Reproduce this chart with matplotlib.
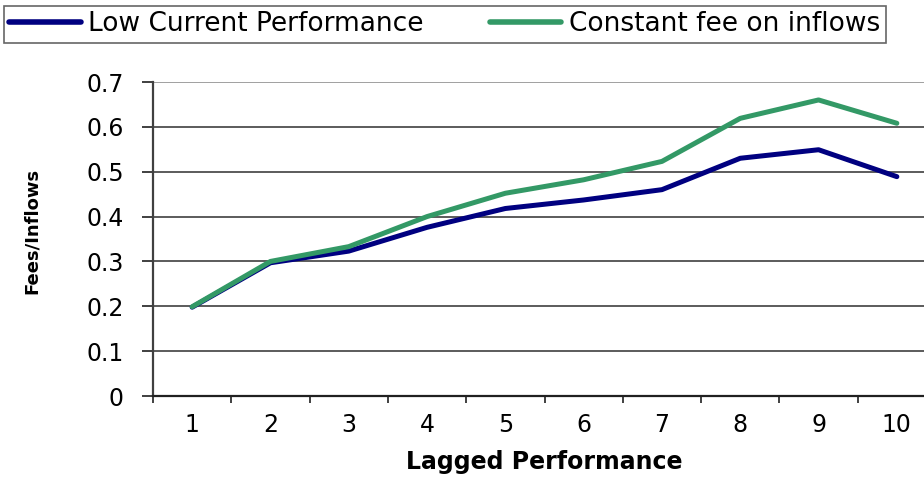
import numpy as np
import matplotlib as mpl
import matplotlib.pyplot as plt

mpl.rc('font', family='DejaVu Sans')

# Fees over inflows by decile of lagged performance
lagged_perf = np.arange(1, 11)
tick_labels = [str(i) for i in lagged_perf]
low_current = [0.198, 0.297, 0.323, 0.376, 0.418, 0.437, 0.460, 0.530, 0.549, 0.489]
const_fee = [0.199, 0.300, 0.333, 0.400, 0.452, 0.482, 0.523, 0.619, 0.660, 0.608]

navy = '#000080'
green = '#339966'

fig = plt.figure(figsize=(9.24, 4.79), dpi=100)
# axes runs a bit past the right edge of the figure
ax = fig.add_axes([153 / 924, 83 / 479, 783 / 924, 314 / 479])

l1, = ax.plot(lagged_perf, low_current, color=navy, lw=3.6,
              solid_capstyle='round', solid_joinstyle='round',
              label='Low Current Performance')
l2, = ax.plot(lagged_perf, const_fee, color=green, lw=3.6,
              solid_capstyle='round', solid_joinstyle='round',
              label='Constant fee on inflows')

ax.set_xlim(0.5, 10.5)
ax.set_ylim(0, 0.7)
ax.set_yticks(np.arange(0, 0.71, 0.1))
ax.set_yticklabels(['0'] + ['%.1f' % v for v in np.arange(0.1, 0.71, 0.1)])
ax.set_xticks(lagged_perf)
ax.set_xticklabels(tick_labels)
ax.set_xticks(np.arange(0.5, 10.6, 1), minor=True)

ax.tick_params(axis='x', which='major', length=0, pad=12.5, labelsize=17)
ax.tick_params(axis='x', which='minor', length=5, width=1.2,
               direction='out', color='#202020')
ax.tick_params(axis='y', length=8, width=1.2, direction='out', pad=13,
               labelsize=17, color='#202020')

for yv in np.arange(0.1, 0.71, 0.1):
    ax.axhline(yv, color='#404040' if yv < 0.65 else '#909090', lw=1.2,
               zorder=0)

for side in ['top', 'right']:
    ax.spines[side].set_visible(False)
ax.spines['left'].set_linewidth(1.6)
ax.spines['left'].set_color('#404040')
ax.spines['bottom'].set_linewidth(1.6)
ax.spines['bottom'].set_color('#202020')

ax.set_xlabel('Lagged Performance', fontsize=17, fontweight='bold')
ax.xaxis.set_label_coords(0.5, -0.172)
ax.set_ylabel('Fees/Inflows', fontsize=13, fontweight='bold')
ax.yaxis.set_label_coords(-0.143, 0.525)

leg = fig.legend(handles=[l1, l2], loc='upper left',
                 bbox_to_anchor=(4 / 924, 1 - 6 / 479), ncol=2,
                 fontsize=19, frameon=True, fancybox=False,
                 handlelength=2.7, handletextpad=0.3, columnspacing=2.5,
                 borderpad=0.2, borderaxespad=0)
leg.get_frame().set_edgecolor('#404040')
leg.get_frame().set_linewidth(1.2)
for h in leg.legend_handles:
    h.set_linewidth(4.0)

fig.savefig('out.png', dpi=100)
